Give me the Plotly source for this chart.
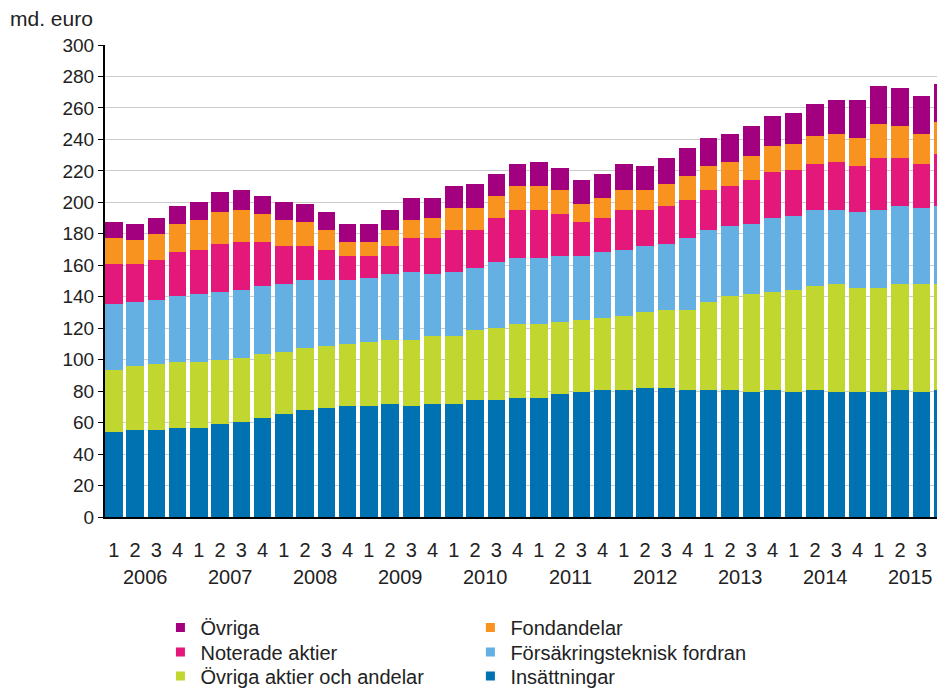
import plotly.graph_objects as go

years = ["2006", "2007", "2008", "2009", "2010", "2011", "2012", "2013", "2014", "2015"]
quarters = ["1", "2", "3", "4"]

insattningar = [54.0, 55.2, 55.2, 56.5, 56.5, 59.0, 60.3, 62.9, 65.4, 67.9,
                69.2, 70.5, 70.5, 71.7, 70.5, 71.7, 71.7, 74.3, 74.3, 75.6,
                75.6, 78.1, 79.4, 80.6, 80.6, 81.9, 81.9, 80.6, 80.6, 80.6,
                79.4, 80.6, 79.4, 80.6, 79.4, 79.4, 79.4, 80.6, 79.4, 80.6]
ovriga_aktier = [39.3, 40.7, 41.9, 41.9, 41.9, 40.7, 40.6, 40.6, 39.4, 39.4,
                 39.4, 39.3, 40.6, 40.7, 41.9, 43.2, 43.2, 44.4, 45.7, 46.9,
                 46.9, 45.7, 45.7, 45.7, 47.0, 48.3, 49.5, 50.8, 55.9, 59.7,
                 62.2, 62.3, 64.7, 66.1, 68.5, 66.0, 66.0, 67.3, 68.5, 67.3]
forsakring = [42.1, 40.6, 40.7, 41.9, 43.2, 43.2, 43.2, 43.2, 43.1, 43.2,
              41.9, 40.7, 40.6, 41.9, 43.2, 39.4, 40.7, 39.4, 41.9, 41.9,
              41.9, 41.9, 40.6, 42.0, 41.9, 41.9, 41.9, 45.7, 45.7, 44.5,
              44.4, 46.9, 47.0, 48.2, 47.0, 48.3, 49.5, 49.6, 48.3, 49.6]
noterade = [25.2, 24.1, 25.6, 28.0, 28.1, 30.4, 30.5, 27.9, 24.2, 21.6,
            19.0, 15.2, 14.0, 17.8, 21.5, 22.8, 26.6, 24.1, 27.9, 30.5,
            30.5, 26.7, 21.6, 21.5, 25.4, 22.8, 24.2, 24.2, 25.4, 25.4,
            28.0, 29.2, 29.2, 29.2, 30.5, 29.2, 33.0, 30.4, 27.9, 33.0]
fondandelar = [16.5, 15.5, 16.3, 17.7, 19.1, 20.4, 20.3, 17.8, 16.5, 15.2,
               12.7, 8.9, 8.9, 10.1, 11.5, 12.7, 14.0, 14.0, 14.0, 15.3,
               15.3, 15.2, 11.4, 12.7, 12.7, 12.7, 13.9, 15.2, 15.3, 15.2,
               15.2, 16.6, 16.5, 17.8, 17.8, 17.7, 21.6, 20.4, 19.1, 20.3]
ovriga = [10.2, 9.9, 10.1, 11.5, 11.2, 12.6, 12.7, 11.4, 11.4, 11.4,
          11.5, 11.4, 11.4, 12.7, 13.9, 12.7, 14.0, 15.2, 14.0, 13.9,
          15.2, 14.0, 15.3, 15.3, 16.5, 15.3, 16.5, 17.8, 17.7, 17.8,
          19.1, 19.0, 20.3, 20.3, 21.6, 24.2, 24.2, 24.1, 24.1, 24.1]

# name, values, colour, legend id, legend column, legend row
series = [
    ("Insättningar", insattningar, "#0072b1", "legend6", 1, 2),
    ("Övriga aktier och andelar", ovriga_aktier, "#c1d72f", "legend3", 0, 2),
    ("Försäkringsteknisk fordran", forsakring, "#64b0e3", "legend5", 1, 1),
    ("Noterade aktier", noterade, "#e4177a", "legend2", 0, 1),
    ("Fondandelar", fondandelar, "#f7931e", "legend4", 1, 0),
    ("Övriga", ovriga, "#a3007f", "legend", 0, 0),
]

n = len(years) * len(quarters)
xs = list(range(n))
qlabels = [q for _ in years for q in quarters]

FONT = "Liberation Sans, Arial, sans-serif"
TXT = "#222222"
FS = 20

col_x = [0.066, 0.435]
row_y = [-0.2341, -0.2860, -0.3369]

fig = go.Figure()
for name, vals, color, lg, c, r in series:
    fig.add_trace(go.Bar(x=xs, y=vals, name=name, marker_color=color,
                         marker_line_width=0, showlegend=False))

legends = {}
for name, vals, color, lg, c, r in series:
    fig.add_trace(go.Scatter(x=[None], y=[None], mode="markers", name=name,
                             marker=dict(symbol="square", size=9, color=color),
                             legend=lg, showlegend=True))
    legends[lg] = dict(x=col_x[c], y=row_y[r], xanchor="left", yanchor="middle",
                       bgcolor="rgba(0,0,0,0)", borderwidth=0,
                       font=dict(family=FONT, size=FS, color=TXT),
                       itemclick=False, itemdoubleclick=False)

for i, yr in enumerate(years):
    fig.add_annotation(x=i * 4 + 1.5, y=0, xref="x", yref="paper",
                       text=yr, showarrow=False, yanchor="middle",
                       yshift=-60, font=dict(family=FONT, size=FS, color=TXT))

fig.add_annotation(x=0, y=1, xref="paper", yref="paper", text="md. euro",
                   showarrow=False, xanchor="right", yanchor="middle",
                   xshift=-10, yshift=27,
                   font=dict(family=FONT, size=21, color=TXT))

fig.update_layout(
    width=937, height=680,
    margin=dict(l=97, r=0, t=37, b=171, autoexpand=False),
    paper_bgcolor="white", plot_bgcolor="white",
    barmode="stack", bargap=0.18,
    font=dict(family=FONT, size=FS, color=TXT),
    xaxis=dict(range=[-0.42, 39.12], tickmode="array", tickvals=xs,
               ticktext=qlabels, showgrid=False, zeroline=False,
               showline=True, linecolor="#000000", linewidth=2,
               ticks="", ticklabelstandoff=14,
               tickfont=dict(family=FONT, size=FS, color=TXT)),
    yaxis=dict(range=[0, 300], tickmode="linear", tick0=0, dtick=20,
               showgrid=True, gridcolor="#cccccc", gridwidth=1,
               zeroline=False, showline=True, linecolor="#000000",
               linewidth=2, ticks="outside", ticklen=5, tickcolor="#000000",
               tickwidth=1, tickfont=dict(family=FONT, size=19, color=TXT)),
    **legends,
)

fig.write_html("out.html")
